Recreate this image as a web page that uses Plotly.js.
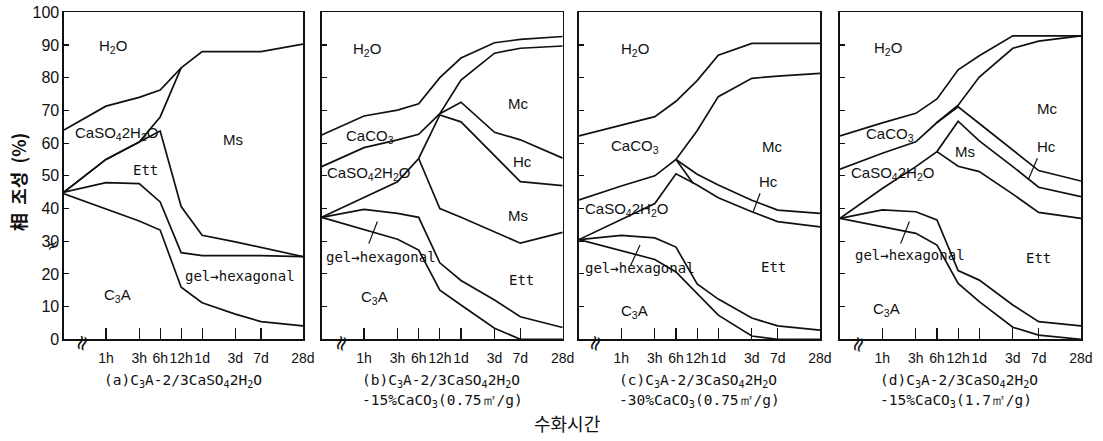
<!DOCTYPE html>
<html>
<head>
<meta charset="utf-8">
<script src="https://cdn.plot.ly/plotly-3.0.1.min.js"></script>
<style>
  html, body { margin: 0; padding: 0; background: #fff; }
  #chart { width: 1103px; height: 441px; }
</style>
</head>
<body>
<div id="chart"></div>
<script>
// Hydration time in hours; the first entry is the origin of the broken time axis.
const TIME = [0.25, 1, 3, 6, 12, 24, 72, 168, 672];
const TICK_TIMES = [1, 3, 6, 12, 24, 72, 168, 672];
const TICK_LABELS = ['1h', '3h', '6h', '12h', '1d', '3d', '7d', '28d'];
const Y_TICKS = [0, 10, 20, 30, 40, 50, 60, 70, 80, 90, 100];

// Phase boundaries (cumulative %), panel (a) C3A-2/3CaSO4·2H2O
const a_H2O   = [64, 71.3, 74, 76.2, 83, 88, 88, 88, 90.3];
const a_CaSO4 = [45, 55, 60.3, 68, 83, null, null, null, null];
const a_Ms    = [45, 55, 60.3, 63.7, 40.6, 31.8, 29.8, 28.1, 25.3];
const a_Ett   = [45, 47.9, 47.6, 42, 26.5, 25.6, 25.6, 25.6, 25.3];
const a_C3A   = [44.5, 39.8, 36.2, 33.4, 15.9, 11.2, 7.7, 5.4, 4.1];

// Panel (b) -15% CaCO3 (0.75 m2/g)
const b_H2O   = [62.5, 68.3, 70.1, 72, 80, 86, 90.7, 91.7, 92.6];
const b_CaCO3 = [52.8, 58.6, 61, 62.7, 69, 79.3, 87.5, 89, 89.7];
const b_Hc    = [null, null, null, null, 69, 72.5, 63.3, 61, 55.4];
const b_CaSO4 = [37.3, 43.4, 48.2, 55.3, 68.6, 66.5, 56.2, 48.2, 47];
const b_Ms    = [null, null, null, 55.3, 40, 37.3, 32.8, 29.4, 32.7];
const b_Ett   = [37.3, 39.7, 38.5, 37.3, 23.4, 18, 12, 6.9, 3.6];
const b_C3A   = [37.3, 33.5, 30.6, 27.3, 15, 10.5, 3.4, 0, 0];

// Panel (c) -30% CaCO3 (0.75 m2/g)
const c_H2O   = [62.2, 65.5, 68.1, 72.8, 79.1, 86.9, 90.5, 90.5, 90.5];
const c_CaCO3 = [42.6, 46.9, 50, 55, 63.8, 74.2, 79.8, 80.5, 81.3];
const c_Hc    = [null, null, null, 55, 50.5, 47.2, 42.5, 39.5, 38.5];
const c_CaSO4 = [30.5, 36.6, 41.5, 50.6, 47.2, 43.3, 39, 36, 34.4];
const c_Ett   = [30.5, 31.8, 31, 28.2, 16.9, 12.3, 6.5, 4.1, 2.8];
const c_C3A   = [30.5, 27.1, 24.4, 20.6, 14.1, 7.4, 1, 0, 0];
// short closing segment of the CaSO4 layer between 6h and ~10h
const c_LINK_TIME = [6, 10.5];
const c_LINK      = [55, 47.7];

// Panel (d) -15% CaCO3 (1.7 m2/g)
const d_H2O   = [62.2, 66.2, 69.1, 73.5, 82.4, 86.7, 92.8, 92.8, 92.8];
const d_CaCO3 = [52, 56.9, 60.4, 66.3, 71.6, 80.2, 89, 91.2, 92.8];
const d_Hc    = [null, null, null, 66.3, 71.1, 66, 57.8, 51.6, 48.4];
const d_CaSO4 = [37, 46.1, 52.8, 57.4, 66.7, 60.7, 52.8, 46.5, 43.6];
const d_Ms    = [null, null, null, 57.4, 52.9, 51.3, 44.4, 38.8, 37];
const d_Ett   = [37, 39.6, 39, 36.5, 21, 18.1, 10.5, 5.4, 4.1];
const d_C3A   = [37, 34.4, 32.4, 28.8, 17.1, 11.5, 3.7, 1.3, 0];

const CAPTIONS = [
  ['(a)C<sub>3</sub>A-2/3CaSO<sub>4</sub>2H<sub>2</sub>O', ''],
  ['(b)C<sub>3</sub>A-2/3CaSO<sub>4</sub>2H<sub>2</sub>O', '-15%CaCO<sub>3</sub>(0.75㎡/g)'],
  ['(c)C<sub>3</sub>A-2/3CaSO<sub>4</sub>2H<sub>2</sub>O', '-30%CaCO<sub>3</sub>(0.75㎡/g)'],
  ['(d)C<sub>3</sub>A-2/3CaSO<sub>4</sub>2H<sub>2</sub>O', '-15%CaCO<sub>3</sub>(1.7㎡/g)']
];
const X_TITLE = '수화시간';
const Y_TITLE = '相  조성  (%)';

// ---- drawing ----
const W = 1103, H = 441;
const px = v => v / W;
const py = v => 1 - v / H;
const lg = Math.log10;

const panels = [
  { x: 'x',  y: 'y',  left: 64,    right: 303,   lines: [a_H2O, a_CaSO4, a_Ms, a_Ett, a_C3A] },
  { x: 'x2', y: 'y2', left: 321.7, right: 562.7, lines: [b_H2O, b_CaCO3, b_Hc, b_CaSO4, b_Ms, b_Ett, b_C3A] },
  { x: 'x3', y: 'y3', left: 579,   right: 820,   lines: [c_H2O, c_CaCO3, c_Hc, c_CaSO4, c_Ett, c_C3A] },
  { x: 'x4', y: 'y4', left: 840,   right: 1081,  lines: [d_H2O, d_CaCO3, d_Hc, d_CaSO4, d_Ms, d_Ett, d_C3A] }
];

const LINE = { color: '#111', width: 1.7 };
const traces = [];
panels.forEach(p => {
  p.lines.forEach(vals => {
    traces.push({ type: 'scatter', mode: 'lines', x: TIME, y: vals, xaxis: p.x, yaxis: p.y,
      line: LINE, hoverinfo: 'skip', showlegend: false, connectgaps: false });
  });
});
traces.push({ type: 'scatter', mode: 'lines', x: c_LINK_TIME, y: c_LINK, xaxis: 'x3', yaxis: 'y3',
  line: LINE, hoverinfo: 'skip', showlegend: false });

const TOP = 12.3, BOTTOM = 339.3;
const layout = {
  width: W, height: H,
  margin: { l: 0, r: 0, t: 0, b: 0 },
  paper_bgcolor: '#fff', plot_bgcolor: '#fff',
  showlegend: false,
  font: { family: 'Liberation Sans, Arial, sans-serif', color: '#111' },
  annotations: [],
  shapes: []
};

const SANS = 'Liberation Sans, Arial, sans-serif';
const MONO = 'DejaVu Sans Mono, Liberation Mono, monospace';

panels.forEach((p, i) => {
  const xk = i === 0 ? 'xaxis' : 'xaxis' + (i + 1);
  const yk = i === 0 ? 'yaxis' : 'yaxis' + (i + 1);
  layout[xk] = {
    domain: [px(p.left), px(p.right)],
    anchor: p.y,
    type: 'log',
    range: [lg(0.25), lg(672) + 0.0005],
    tickvals: TICK_TIMES,
    ticktext: TICK_LABELS,
    tickangle: 0,
    ticklabelstandoff: 5,
    ticks: 'inside', ticklen: 11, tickwidth: 1.2, tickcolor: '#111',
    tickfont: { family: SANS, size: 14, color: '#111' },
    showline: true, linecolor: '#111', linewidth: 1.6, mirror: true,
    showgrid: false, zeroline: false, fixedrange: true
  };
  layout[yk] = {
    domain: [py(BOTTOM), py(TOP)],
    anchor: p.x,
    range: [0, 100],
    tickvals: Y_TICKS,
    ticks: 'inside', ticklen: 5, tickwidth: 1.2, tickcolor: '#111',
    showticklabels: i === 0,
    tickfont: { family: SANS, size: 16, color: '#111' },
    showline: true, linecolor: '#111', linewidth: 1.6, mirror: true,
    showgrid: false, zeroline: false, fixedrange: true
  };

  // captions under each panel
  const capX = px(p.left + 38);
  layout.annotations.push({ xref: 'paper', yref: 'paper', x: capX, y: py(381), xanchor: 'left', yanchor: 'middle',
    text: CAPTIONS[i][0], showarrow: false, font: { family: MONO, size: 14.5, color: '#111' } });
  if (CAPTIONS[i][1]) {
    layout.annotations.push({ xref: 'paper', yref: 'paper', x: capX, y: py(401), xanchor: 'left', yanchor: 'middle',
      text: CAPTIONS[i][1], showarrow: false, font: { family: MONO, size: 14.5, color: '#111' } });
  }
});

// phase labels: [panel, log10(hours), %, text, font, anchor]
const LBL = [
  [0, 0.108, 89.5, 'H<sub>2</sub>O', SANS, 'center'],
  [0, -0.478, 63, 'CaSO<sub>4</sub>2H<sub>2</sub>O', SANS, 'left'],
  [0, 0.561, 51.8, 'Ett', MONO, 'center'],
  [0, 1.83, 61, 'Ms', SANS, 'center'],
  [0, 1.103, 19.4, 'gel→hexagonal', MONO, 'left'],
  [0, 0.163, 13.3, 'C<sub>3</sub>A', SANS, 'center'],

  [1, 0.047, 88.5, 'H<sub>2</sub>O', SANS, 'center'],
  [1, 0.084, 62, 'CaCO<sub>3</sub>', SANS, 'center'],
  [1, -0.554, 50.8, 'CaSO<sub>4</sub>2H<sub>2</sub>O', SANS, 'left'],
  [1, 2.196, 72.2, 'Mc', SANS, 'center'],
  [1, 2.253, 54.3, 'Hc', SANS, 'center'],
  [1, 2.196, 38, 'Ms', SANS, 'center'],
  [1, 2.244, 18.1, 'Ett', MONO, 'center'],
  [1, -0.564, 25.3, 'gel→hexagonal', MONO, 'left'],
  [1, 0.156, 12.7, 'C<sub>3</sub>A', SANS, 'center'],

  [2, 0.194, 88.5, 'H<sub>2</sub>O', SANS, 'center'],
  [2, 0.194, 58.9, 'CaCO<sub>3</sub>', SANS, 'center'],
  [2, -0.55, 39.8, 'CaSO<sub>4</sub>2H<sub>2</sub>O', SANS, 'left'],
  [2, 2.14, 58.9, 'Mc', SANS, 'center'],
  [2, 2.09, 48.2, 'Hc', SANS, 'center'],
  [2, 2.162, 22.2, 'Ett', MONO, 'center'],
  [2, -0.55, 21.7, 'gel→hexagonal', MONO, 'left'],
  [2, 0.194, 8.5, 'C<sub>3</sub>A', SANS, 'center'],

  [3, 0.084, 89, 'H<sub>2</sub>O', SANS, 'center'],
  [3, 0.108, 62.5, 'CaCO<sub>3</sub>', SANS, 'center'],
  [3, -0.468, 50.8, 'CaSO<sub>4</sub>2H<sub>2</sub>O', SANS, 'left'],
  [3, 1.177, 57.4, 'Ms', SANS, 'center'],
  [3, 2.34, 70.6, 'Mc', SANS, 'center'],
  [3, 2.34, 58.9, 'Hc', SANS, 'center'],
  [3, 2.22, 24.8, 'Ett', MONO, 'center'],
  [3, -0.413, 25.8, 'gel→hexagonal', MONO, 'left'],
  [3, 0.063, 9, 'C<sub>3</sub>A', SANS, 'center']
];
LBL.forEach(([i, lx, y, text, fam, anchor]) => {
  layout.annotations.push({ xref: panels[i].x, yref: panels[i].y, x: lx, y: y,
    xanchor: anchor, yanchor: 'middle', text: text, showarrow: false,
    font: { family: fam, size: fam === MONO ? 14 : 15, color: '#111' } });
});

// leader lines from labels into thin layers: [panel, tail x, tail y, head x, head y]
const LEADERS = [
  [1, 0.06, 28.8, 0.19, 36],
  [2, 0.124, 22.2, 0.266, 28.8],
  [2, 1.983, 45.1, 1.877, 39],
  [3, 0.252, 28.8, 0.386, 36],
  [3, 2.216, 55.8, 2.076, 48.7]
];
LEADERS.forEach(([i, tx, ty, hx, hy]) => {
  layout.annotations.push({ xref: panels[i].x, yref: panels[i].y, x: hx, y: hy,
    axref: panels[i].x, ayref: panels[i].y, ax: tx, ay: ty, text: '',
    showarrow: true, arrowhead: 0, arrowwidth: 1.2, arrowcolor: '#111', standoff: 0, startstandoff: 0 });
});

// axis-break marks
[[81.7, 343], [341, 343], [595, 343], [858, 344]].forEach(([x, y]) => {
  layout.annotations.push({ xref: 'paper', yref: 'paper', x: px(x), y: py(y), xanchor: 'center', yanchor: 'middle',
    text: '≈', textangle: -72, showarrow: false, font: { family: 'DejaVu Sans', size: 21, color: '#111' } });
});
layout.annotations.push({ xref: 'paper', yref: 'paper', x: px(52), y: py(246), xanchor: 'center', yanchor: 'middle',
  text: '≈', textangle: -25, showarrow: false, font: { family: 'DejaVu Sans', size: 16, color: '#111' } });

// axis titles
layout.annotations.push({ xref: 'paper', yref: 'paper', x: px(567), y: py(423), xanchor: 'center', yanchor: 'middle',
  text: X_TITLE, showarrow: false, font: { family: 'Noto Sans CJK KR', size: 18, color: '#111' } });
layout.annotations.push({ xref: 'paper', yref: 'paper', x: px(18), y: py(182), xanchor: 'center', yanchor: 'middle',
  text: Y_TITLE, textangle: -90, showarrow: false,
  font: { family: 'Noto Sans CJK KR', size: 18, color: '#111', weight: 'bold' } });

Plotly.newPlot('chart', traces, layout, { staticPlot: true, displayModeBar: false });
</script>
</body>
</html>
